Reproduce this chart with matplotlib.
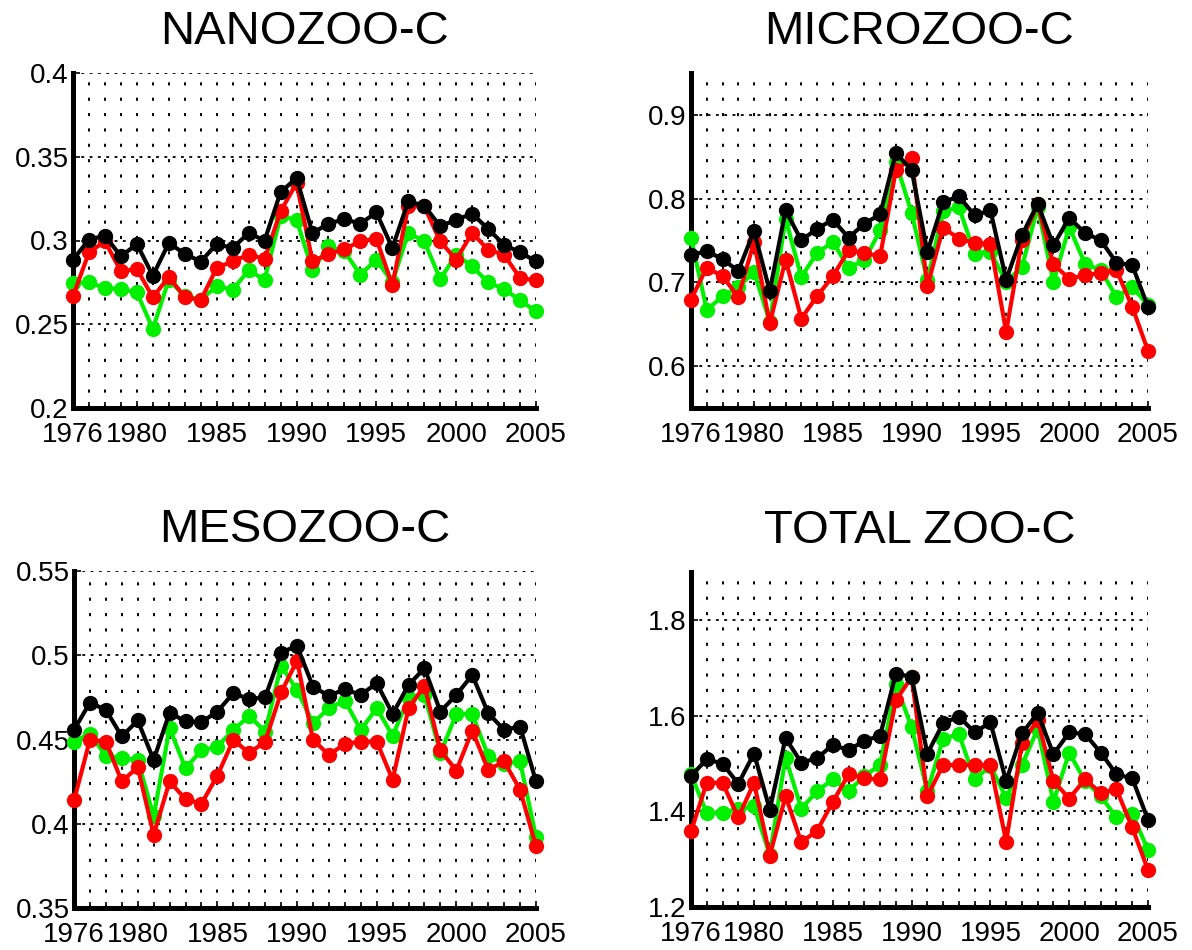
import matplotlib
matplotlib.use("Agg")
import matplotlib.pyplot as plt
from matplotlib.ticker import MultipleLocator, FixedLocator

plt.rcParams['font.family'] = ['Liberation Sans', 'DejaVu Sans']

years = list(range(1976, 2006))
xtick_labels = [1976, 1980, 1985, 1990, 1995, 2000, 2005]

titles = ["NANOZOO-C", "MICROZOO-C", "MESOZOO-C", "TOTAL ZOO-C"]

# NANOZOO-C
nano_black = [0.2886, 0.3005, 0.3029, 0.2905, 0.2979, 0.2790, 0.2985, 0.2921, 0.2874, 0.2979,
              0.2955, 0.3045, 0.2999, 0.3288, 0.3373, 0.3045, 0.3100, 0.3128, 0.3100, 0.3168,
              0.2955, 0.3234, 0.3208, 0.3085, 0.3124, 0.3160, 0.3069, 0.2975, 0.2929, 0.2876]
nano_red = [0.2667, 0.2929, 0.2995, 0.2816, 0.2830, 0.2661, 0.2782, 0.2663, 0.2643, 0.2836,
            0.2876, 0.2915, 0.2890, 0.3174, 0.3343, 0.2876, 0.2919, 0.2949, 0.2995, 0.3011,
            0.2732, 0.3204, 0.3204, 0.2995, 0.2886, 0.3045, 0.2945, 0.2915, 0.2776, 0.2762]
nano_green = [0.2746, 0.2750, 0.2716, 0.2710, 0.2690, 0.2472, 0.2766, 0.2667, 0.2647, 0.2726,
              0.2706, 0.2822, 0.2766, 0.3144, 0.3124, 0.2822, 0.2965, 0.2935, 0.2796, 0.2886,
              0.2750, 0.3045, 0.2995, 0.2770, 0.2915, 0.2846, 0.2750, 0.2710, 0.2643, 0.2577]

# MICROZOO-C
micro_black = [0.7323, 0.7375, 0.7276, 0.7137, 0.7613, 0.6894, 0.7860, 0.7502, 0.7641, 0.7748,
               0.7534, 0.7701, 0.7812, 0.8543, 0.8344, 0.7363, 0.7959, 0.8027, 0.7800, 0.7860,
               0.7033, 0.7562, 0.7939, 0.7442, 0.7772, 0.7590, 0.7502, 0.7236, 0.7204, 0.6707]
micro_red = [0.6795, 0.7176, 0.7073, 0.6827, 0.7482, 0.6509, 0.7272, 0.6568, 0.6835, 0.7073,
             0.7383, 0.7351, 0.7311, 0.8336, 0.8487, 0.6954, 0.7653, 0.7522, 0.7470, 0.7462,
             0.6410, 0.7502, 0.7931, 0.7216, 0.7045, 0.7085, 0.7113, 0.7144, 0.6707, 0.6183]
micro_green = [0.7534, 0.6668, 0.6835, 0.6946, 0.7125, 0.6529, 0.7760, 0.7065, 0.7351, 0.7482,
               0.7176, 0.7264, 0.7621, 0.8436, 0.7828, 0.7025, 0.7852, 0.7899, 0.7343, 0.7363,
               0.7005, 0.7184, 0.7899, 0.7005, 0.7661, 0.7224, 0.7144, 0.6827, 0.6946, 0.6727]

# MESOZOO-C
meso_black = [0.4557, 0.4719, 0.4676, 0.4518, 0.4613, 0.4379, 0.4660, 0.4607, 0.4603, 0.4666,
              0.4775, 0.4739, 0.4751, 0.5016, 0.5056, 0.4814, 0.4759, 0.4798, 0.4765, 0.4834,
              0.4652, 0.4824, 0.4923, 0.4666, 0.4765, 0.4883, 0.4656, 0.4557, 0.4577, 0.4251]
meso_red = [0.4138, 0.4498, 0.4488, 0.4251, 0.4336, 0.3935, 0.4251, 0.4146, 0.4119, 0.4285,
            0.4498, 0.4419, 0.4488, 0.4779, 0.4968, 0.4498, 0.4409, 0.4474, 0.4488, 0.4488,
            0.4261, 0.4686, 0.4818, 0.4435, 0.4316, 0.4553, 0.4320, 0.4370, 0.4202, 0.3866]
meso_green = [0.4488, 0.4534, 0.4403, 0.4389, 0.4379, 0.4044, 0.4567, 0.4330, 0.4435, 0.4458,
              0.4557, 0.4640, 0.4547, 0.4937, 0.4794, 0.4597, 0.4686, 0.4731, 0.4557, 0.4686,
              0.4522, 0.4745, 0.4765, 0.4419, 0.4652, 0.4652, 0.4403, 0.4356, 0.4370, 0.3921]

# TOTAL ZOO-C
total_black = [1.4737, 1.5088, 1.4996, 1.4575, 1.5207, 1.4035, 1.5530, 1.5018, 1.5109, 1.5389,
               1.5277, 1.5474, 1.5579, 1.6877, 1.6807, 1.5207, 1.5839, 1.5979, 1.5649, 1.5860,
               1.4632, 1.5628, 1.6049, 1.5193, 1.5649, 1.5614, 1.5228, 1.4772, 1.4688, 1.3825]
total_red = [1.3579, 1.4596, 1.4596, 1.3874, 1.4596, 1.3074, 1.4316, 1.3354, 1.3593, 1.4196,
             1.4772, 1.4688, 1.4667, 1.6316, 1.6807, 1.4316, 1.4968, 1.4968, 1.4968, 1.4968,
             1.3368, 1.5418, 1.5909, 1.4632, 1.4267, 1.4667, 1.4386, 1.4456, 1.3663, 1.2772]
total_green = [1.4772, 1.3965, 1.3965, 1.4040, 1.4105, 1.3088, 1.5123, 1.4056, 1.4421, 1.4667,
               1.4421, 1.4737, 1.4968, 1.6653, 1.5754, 1.4421, 1.5509, 1.5614, 1.4667, 1.4947,
               1.4281, 1.4968, 1.5719, 1.4196, 1.5228, 1.4632, 1.4316, 1.3874, 1.3944, 1.3193]

series = [
    (nano_green, nano_red, nano_black),
    (micro_green, micro_red, micro_black),
    (meso_green, meso_red, meso_black),
    (total_green, total_red, total_black),
]
ylims = [(0.2, 0.4), (0.55, 0.95), (0.35, 0.55), (1.2, 1.9)]
yticklabels = [
    ["0.2", "0.25", "0.3", "0.35", "0.4"],
    ["0.6", "0.7", "0.8", "0.9"],
    ["0.35", "0.4", "0.45", "0.5", "0.55"],
    ["1.2", "1.4", "1.6", "1.8"],
]
ytick_vals = [
    [0.2, 0.25, 0.3, 0.35, 0.4],
    [0.6, 0.7, 0.8, 0.9],
    [0.35, 0.4, 0.45, 0.5, 0.55],
    [1.2, 1.4, 1.6, 1.8],
]

positions = [
    [73/1192, 1 - 408/950, 463/1192, 335/950],
    [691/1192, 1 - 408/950, 457/1192, 335/950],
    [74/1192, 1 - 908/950, 462/1192, 337/950],
    [691/1192, 1 - 907/950, 457/1192, 335/950],
]

colors = ["#00f000", "#ff0000", "#000000"]

fig = plt.figure(figsize=(11.92, 9.5), dpi=100)
for i in range(4):
    ax = fig.add_axes(positions[i])
    for vals, c in zip(series[i], colors):
        ax.plot(years, vals, color=c, lw=3.0, marker='o', ms=10,
                markeredgecolor=c, markerfacecolor=c, clip_on=False, zorder=3)
    ax.set_xlim(1976, 2005)
    ax.set_ylim(*ylims[i])
    ax.xaxis.set_major_locator(FixedLocator(xtick_labels))
    ax.set_xticklabels([str(v) for v in xtick_labels])
    ax.xaxis.set_minor_locator(MultipleLocator(1))
    ax.yaxis.set_major_locator(FixedLocator(ytick_vals[i]))
    ax.set_yticklabels(yticklabels[i])
    for s in ['top', 'right']:
        ax.spines[s].set_visible(False)
    for s in ['left', 'bottom']:
        ax.spines[s].set_linewidth(3.6)
    ax.tick_params(axis='both', which='major', direction='in', length=5, width=1.2,
                   labelsize=20, pad=3)
    ax.tick_params(axis='x', which='major', pad=10)
    ax.tick_params(axis='x', which='minor', direction='in', length=4, width=1.2)
    ax.tick_params(axis='y', which='minor', left=False)
    ax.grid(True, axis='x', which='both', color='black', linestyle=(0, (1.6, 6.3)), lw=1.4)
    ax.grid(True, axis='y', which='major', color='black', linestyle=(0, (1.6, 3.0)), lw=1.3)
    ax.set_axisbelow(True)
    ax.set_title(titles[i], fontsize=34, pad=21)

fig.savefig("out.png", dpi=100)
